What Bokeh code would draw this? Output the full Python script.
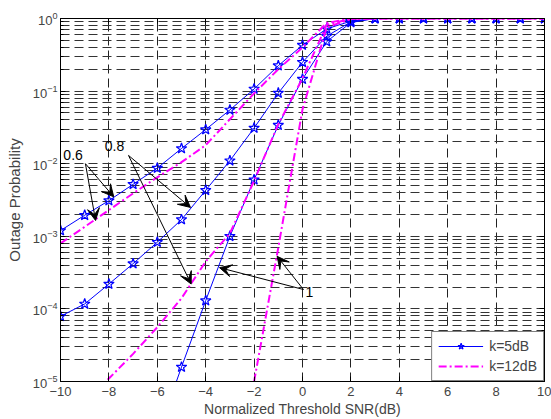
import math
from bokeh.plotting import figure
from bokeh.models import (Range1d, LinearAxis, FixedTicker, Arrow, VeeHead,
                          Label, Legend, LegendItem)
from bokeh.embed import file_html
from bokeh.resources import INLINE

nan = float("nan")

# ---------------- data ----------------
snr_db = [-10, -9, -8, -7, -6, -5, -4, -3, -2, -1, 0, 1, 2, 3, 4, 5, 6, 7, 8, 9, 10]

# k = 5 dB (blue, stars)
k5_rho06 = [1.2e-3, 1.95e-3, 3.1e-3, 5.2e-3, 8.7e-3, 1.62e-2, 2.95e-2, 5.5e-2, 0.107, 0.224,
            0.43, 0.72, 0.92, 1, 1, 1, 1, 1, 1, 1, 1]
k5_rho08 = [7.9e-5, 1.17e-4, 2.2e-4, 4.2e-4, 8.3e-4, 1.7e-3, 4.3e-3, 1.1e-2, 3.1e-2, 9.4e-2,
            0.25, 0.57, 0.90, 1, 1, 1, 1, 1, 1, 1, 1]
k5_rho10 = [nan, nan, nan, nan, 1.8e-6, 1.58e-5, 1.3e-4, 1.0e-3, 6.0e-3, 3.4e-2,
            0.146, 0.48, 0.88, 1, 1, 1, 1, 1, 1, 1, 1]

# k = 12 dB (magenta, dash-dot)
k12_rho06 = [8.0e-4, 1.35e-3, 2.3e-3, 3.9e-3, 6.5e-3, 1.05e-2, 1.8e-2, 4.1e-2, 9.3e-2, 0.20,
             0.40, 0.87, 0.99, 1, 1, 1, 1, 1, 1, 1, 1]
k12_rho08 = [nan, 5.2e-6, 1.1e-5, 2.4e-5, 5.6e-5, 1.4e-4, 4.5e-4, 1.1e-3, 5.8e-3, 3.5e-2,
             0.15, 0.82, 0.99, 1, 1, 1, 1, 1, 1, 1, 1]
k12_rho10 = [nan, nan, nan, nan, nan, nan, nan, nan, 1.0e-5, 7.0e-4,
             0.056, 0.75, 0.99, 1, 1, 1, 1, 1, 1, 1, 1]

x_ticks = [-10, -8, -6, -4, -2, 0, 2, 4, 6, 8, 10]
x_tick_labels = ["\u221210", "\u22128", "\u22126", "\u22124", "\u22122", "0", "2", "4", "6", "8", "10"]
y_ticks = [1e-5, 1e-4, 1e-3, 1e-2, 1e-1, 1]
y_minor = [m * 10.0 ** e for e in range(-5, 0) for m in range(2, 10)]

series_labels = ["k=5dB", "k=12dB"]
FONT = "Liberation Sans"


def valid(xs, ys):
    pts = [(x, y) for x, y in zip(xs, ys) if not math.isnan(y)]
    return [a for a, _ in pts], [b for _, b in pts]


# ---------------- figure ----------------
p = figure(frame_width=484, frame_height=363,
           x_range=Range1d(-10, 10), y_range=Range1d(1e-5, 1),
           y_axis_type="log", output_backend="svg", toolbar_location=None,
           min_border_left=60, min_border_right=7, min_border_top=18, min_border_bottom=38,
           background_fill_color="white", border_fill_color="white")
p.outline_line_color = "black"
p.outline_line_width = 1

xt = FixedTicker(ticks=x_ticks)
yt = FixedTicker(ticks=y_ticks, minor_ticks=y_minor)

# bottom axis
xa = p.xaxis[0]
xa.ticker = xt
xa.major_label_overrides = {t: s for t, s in zip(x_ticks, x_tick_labels)}
xa.axis_label = "Normalized Threshold SNR(dB)"
xa.major_tick_in = 5
xa.major_tick_out = 0
xa.minor_tick_line_color = None
xa.major_label_standoff = 5
xa.axis_label_standoff = 2
xa.major_label_text_font = FONT
xa.major_label_text_font_size = "13px"
xa.axis_label_text_font = FONT
xa.axis_label_text_font_size = "14px"
xa.axis_label_text_font_style = "normal"

# left axis
ya = p.yaxis[0]
ya.ticker = yt
ya.axis_label = "Outage Probability"
ya.major_tick_in = 5
ya.major_tick_out = 0
ya.minor_tick_in = 3
ya.minor_tick_out = 0
ya.major_label_standoff = 3
ya.axis_label_standoff = 7
ya.major_label_text_font = FONT
ya.major_label_text_font_size = "13px"
ya.axis_label_text_font = FONT
ya.axis_label_text_font_size = "15px"
ya.axis_label_text_font_style = "normal"

# top / right box axes (ticks only)
top = LinearAxis(ticker=xt, major_tick_in=5, major_tick_out=0, minor_tick_line_color=None,
                 major_label_text_alpha=0, major_label_text_font_size="2px", major_label_standoff=0)
right = LinearAxis(ticker=yt, major_tick_in=5, major_tick_out=0,
                   minor_tick_in=3, minor_tick_out=0,
                   major_label_text_alpha=0, major_label_text_font_size="2px", major_label_standoff=0)
p.add_layout(top, "above")
p.add_layout(right, "right")

# grids
p.xgrid.ticker = xt
p.xgrid.grid_line_color = "#222222"
p.xgrid.grid_line_dash = "9 5"
p.xgrid.grid_line_width = 1
p.ygrid.ticker = yt
p.ygrid.grid_line_color = "#333333"
p.ygrid.grid_line_dash = "9 5"
p.ygrid.minor_grid_line_color = "#333333"
p.ygrid.minor_grid_line_dash = "9 5"

BLUE = "#0000FF"
MAG = "#FF00FF"

blue_r = []
for ys in (k5_rho06, k5_rho08, k5_rho10):
    xs, yv = valid(snr_db, ys)
    l = p.line(xs, yv, line_color=BLUE, line_width=1)
    s = p.scatter(xs, yv, marker="star", size=11, line_color=BLUE, fill_color=None, line_width=1.2)
    blue_r.append((l, s))

mag_r = []
for ys in (k12_rho06, k12_rho08, k12_rho10):
    xs, yv = valid(snr_db, ys)
    l = p.line(xs, yv, line_color=MAG, line_width=2, line_dash="8 3 2 3")
    mag_r.append(l)

# annotations
def arrow(x0, y0, x1, y1):
    p.add_layout(Arrow(x_start=x0, y_start=y0, x_end=x1, y_end=y1,
                       line_color="black", line_width=1,
                       end=VeeHead(size=12, fill_color="black", line_color="black", line_width=1)))

arrow(-8.97, 1.0e-2, -7.80, 3.5e-3)
arrow(-8.97, 1.0e-2, -8.55, 1.65e-3)
arrow(-7.19, 1.3e-2, -4.63, 2.5e-3)
arrow(-7.19, 1.3e-2, -4.60, 2.2e-4)
arrow(0.04, 1.85e-4, -1.05, 5.3e-4)
arrow(0.04, 1.85e-4, -3.43, 3.7e-4)

for txt, x, y, al in (("0.6", -9.48, 1.3e-2, "center"), ("0.8", -7.77, 1.73e-2, "center"),
                      ("1", 0.12, 1.7e-4, "left")):
    p.add_layout(Label(x=x, y=y, text=txt, text_align=al, text_baseline="middle",
                       text_font=FONT, text_font_size="14px", text_color="black"))

legend = Legend(items=[LegendItem(label=series_labels[0], renderers=[blue_r[0][0], blue_r[0][1]]),
                       LegendItem(label=series_labels[1], renderers=[mag_r[0]])],
                location="bottom_right", margin=0, padding=6, spacing=4,
                glyph_width=45, glyph_height=16,
                label_standoff=6, label_text_font=FONT, label_text_font_size="14px",
                border_line_color="black", border_line_width=1,
                background_fill_color="white", background_fill_alpha=1)
p.add_layout(legend)

open("out.html", "w").write(file_html(p, INLINE))
